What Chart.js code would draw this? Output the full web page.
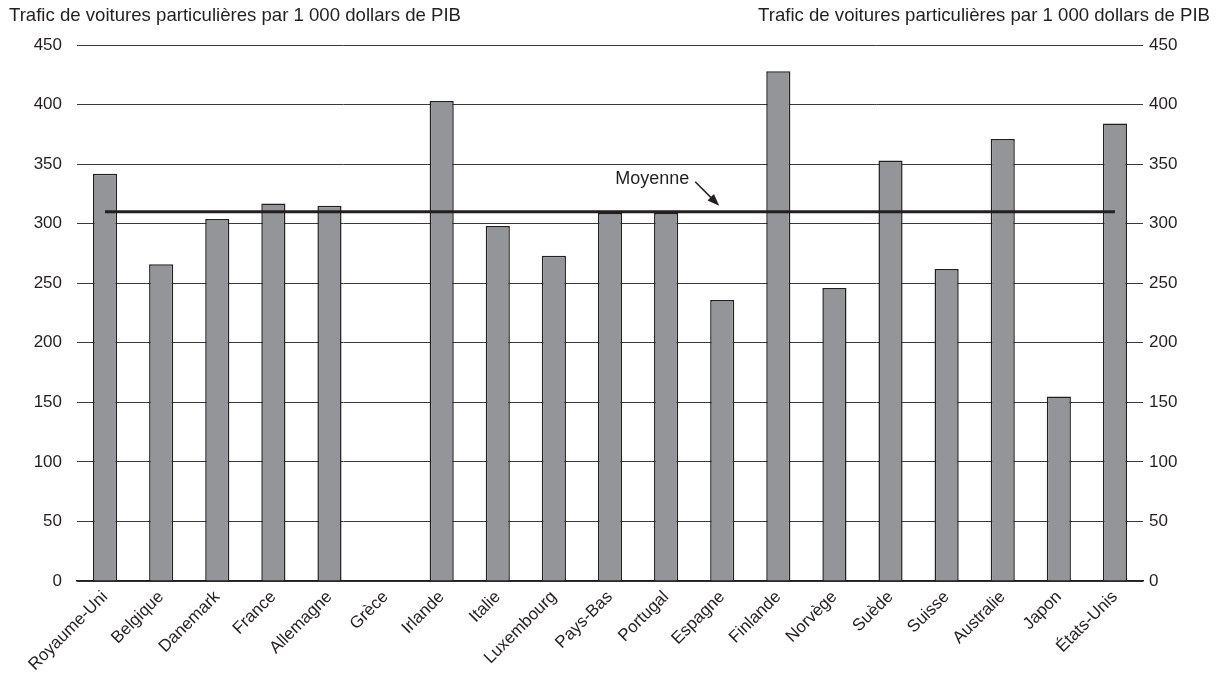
<!DOCTYPE html>
<html>
<head>
<meta charset="utf-8">
<script src="https://cdn.jsdelivr.net/npm/chart.js@4.4.1/dist/chart.umd.min.js"></script>
<style>
  html, body { margin: 0; padding: 0; background: #fff; }
  #caixa { width: 1228px; height: 676px; }
</style>
</head>
<body>
<div id="caixa"><canvas id="grafico"></canvas></div>
<script>
// Dados

const pays = ['Royaume-Uni', 'Belgique', 'Danemark', 'France', 'Allemagne', 'Grèce', 'Irlande', 'Italie',
    'Luxembourg', 'Pays-Bas', 'Portugal', 'Espagne', 'Finlande', 'Norvège', 'Suède', 'Suisse',
    'Australie', 'Japon', 'États-Unis']

const trafic = [342, 266, 304, 317, 315, null, 403, 298, 273, 309, 309, 236, 428, 246, 353, 262, 371, 155, 384]

const moyenne = 310
const ticksY = [0, 50, 100, 150, 200, 250, 300, 350, 400, 450]

const titre = 'Trafic de voitures particulières par 1 000 dollars de PIB'
const texteMoyenne = 'Moyenne'
const paysFleche = 'Espagne'

// cores e fonte
const preto = '#231f20'
const cinza = '#939598'
const fonte = '"Liberation Sans", Arial, sans-serif'

const ctx = document.getElementById('grafico')

// Títulos em cima e a seta "Moyenne"

const pluginTextos = {
    id: 'textos',
    afterDraw(chart){
        const c = chart.ctx
        const x = chart.scales.x
        const y = chart.scales.y

        c.save()
        c.fillStyle = preto
        c.textBaseline = 'alphabetic'

        c.font = '18.6px ' + fonte
        c.textAlign = 'left'
        c.fillText(titre, 9, 21)
        c.textAlign = 'right'
        c.fillText(titre, chart.width - 18, 21)

        // seta da média
        const px = x.getPixelForValue(pays.indexOf(paysFleche))
        const py = y.getPixelForValue(moyenne)

        c.font = '18px ' + fonte
        c.textAlign = 'right'
        c.fillText(texteMoyenne, px - 33, py - 28)

        const x1 = px - 27, y1 = py - 30
        const x2 = px - 3, y2 = py - 6
        const ang = Math.atan2(y2 - y1, x2 - x1)

        c.strokeStyle = preto
        c.lineWidth = 1.5
        c.beginPath()
        c.moveTo(x1, y1)
        c.lineTo(x2 - 9 * Math.cos(ang), y2 - 9 * Math.sin(ang))
        c.stroke()

        c.beginPath()
        c.moveTo(x2, y2)
        c.lineTo(x2 - 12 * Math.cos(ang) + 4.5 * Math.sin(ang), y2 - 12 * Math.sin(ang) - 4.5 * Math.cos(ang))
        c.lineTo(x2 - 12 * Math.cos(ang) - 4.5 * Math.sin(ang), y2 - 12 * Math.sin(ang) + 4.5 * Math.cos(ang))
        c.closePath()
        c.fill()
        c.restore()
    }
}

const grafico = new Chart(ctx, {
    type: 'bar',
    data: {
        labels: pays,
        datasets: [
            {
                type: 'line',
                label: texteMoyenne,
                data: pays.map(() => moyenne),
                borderColor: preto,
                borderWidth: 3,
                pointRadius: 0,
                order: 0
            },
            {
                label: titre,
                data: trafic,
                backgroundColor: cinza,
                borderColor: preto,
                borderWidth: 1.5,
                barPercentage: 0.43,
                categoryPercentage: 1,
                order: 1
            }
        ]
    },
    options: {
        responsive: true,
        maintainAspectRatio: false,
        animation: false,
        layout: {
            padding: { top: 45, left: 0, right: 0, bottom: 0 }
        },
        plugins: {
            legend: { display: false },
            tooltip: { enabled: false }
        },
        scales: {
            x: {
                grid: { display: false, drawTicks: false },
                border: { display: true, color: preto, width: 1.5 },
                ticks: {
                    color: preto,
                    font: { family: fonte, size: 17 },
                    maxRotation: 45,
                    minRotation: 45,
                    autoSkip: false,
                    padding: 6
                },
                afterFit(scale){ scale.height = 95 }
            },
            y: {
                position: 'left',
                min: 0,
                max: 450,
                grid: { color: '#3a3a3a', lineWidth: 1, drawTicks: false },
                border: { display: false },
                afterBuildTicks(scale){ scale.ticks = ticksY.map(v => ({ value: v })) },
                ticks: {
                    color: preto,
                    font: { family: fonte, size: 17 },
                    padding: 15
                },
                afterFit(scale){ scale.width = 77 }
            },
            y2: {
                position: 'right',
                min: 0,
                max: 450,
                grid: { display: false, drawTicks: false },
                border: { display: false },
                afterBuildTicks(scale){ scale.ticks = ticksY.map(v => ({ value: v })) },
                ticks: {
                    color: preto,
                    font: { family: fonte, size: 17 },
                    padding: 6
                },
                afterFit(scale){ scale.width = 85 }
            }
        }
    },
    plugins: [pluginTextos]
})
</script>
</body>
</html>
